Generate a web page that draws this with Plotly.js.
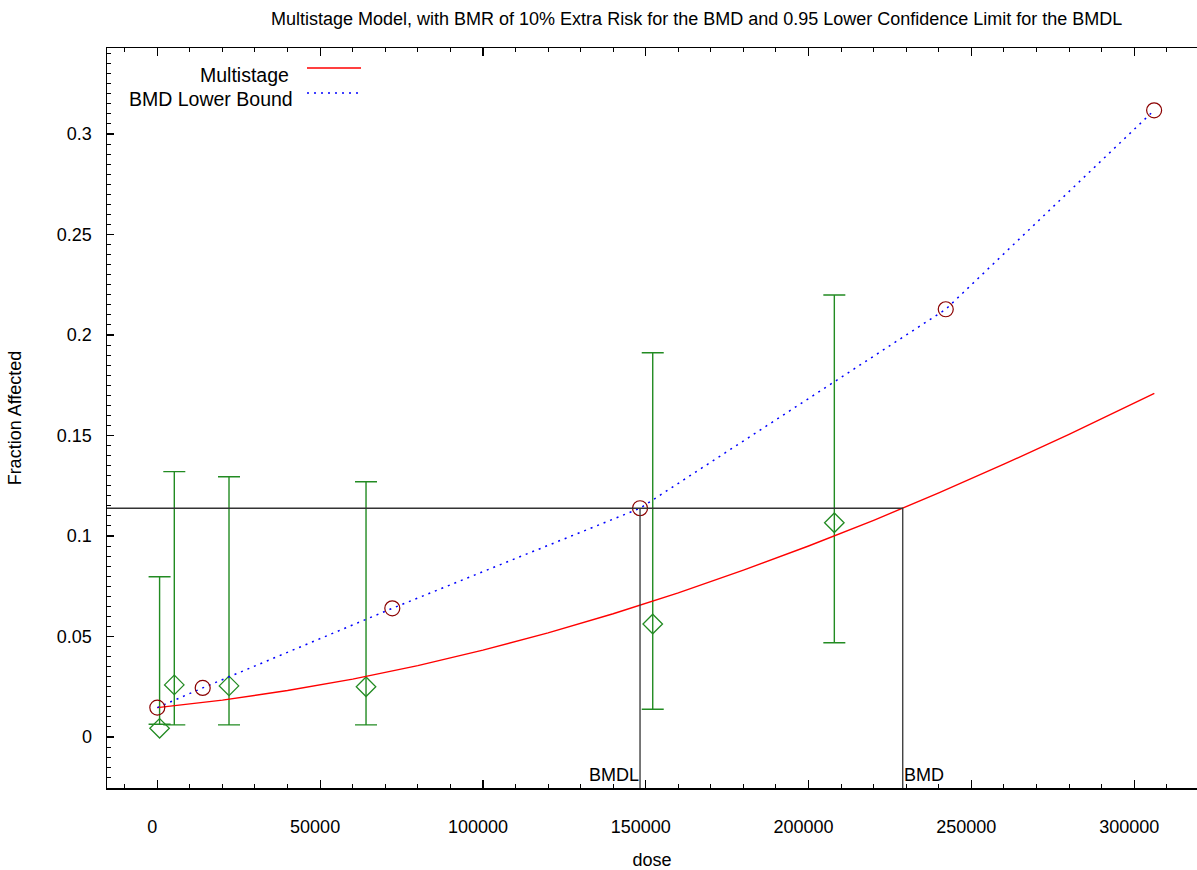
<!DOCTYPE html>
<html>
<head>
<meta charset="utf-8">
<script src="https://cdn.plot.ly/plotly-3.0.1.min.js"></script>
<style>html,body{margin:0;padding:0;background:#fff;}#chart{width:1197px;height:870px;}</style>
</head>
<body>
<div id="chart"></div>
<script>
// ---- data ----
const doseObs = [700, 5220, 22020, 64100, 152150, 207920];
const fracObs = [0.0043, 0.0259, 0.0254, 0.0250, 0.0562, 0.1066];
const ciUpper = [0.0797, 0.1320, 0.1295, 0.1270, 0.1912, 0.2199];
const ciLower = [0.0063, 0.0060, 0.0060, 0.0060, 0.0138, 0.0469];

const modelDose = [0, 20000, 40000, 60000, 80000, 100000, 120000, 140000, 160000, 180000, 200000, 220000, 240000, 260000, 280000, 300000, 306200];
const modelFrac = [0.0146, 0.0183, 0.0231, 0.0288, 0.0355, 0.0432, 0.0518, 0.0613, 0.0717, 0.0830, 0.0950, 0.1078, 0.1214, 0.1357, 0.1506, 0.1661, 0.1710];

const lowerDose = [0, 13940, 72170, 148250, 242140, 306130];
const lowerFrac = [0.0146, 0.0244, 0.0640, 0.1138, 0.2128, 0.3118];

const bmrLevel = 0.1138;
const bmdl = 148250;
const bmd = 228930;

const xRange = [-15450, 319300];
const yRange = [-0.0254, 0.3428];

const FONT = 'Liberation Sans, Arial, sans-serif';
const GREEN = 'rgb(34,139,34)';
const DARKRED = 'rgb(139,0,0)';

const traces = [
  {
    x: doseObs, y: fracObs, type: 'scatter', mode: 'markers', showlegend: false,
    marker: {symbol: 'diamond-open', size: 15, color: GREEN, line: {width: 1.3, color: GREEN}},
    error_y: {type: 'data', symmetric: false,
      array: ciUpper.map((u, i) => u - fracObs[i]),
      arrayminus: ciLower.map((l, i) => fracObs[i] - l),
      color: GREEN, thickness: 1.4, width: 11}
  },
  {
    x: modelDose, y: modelFrac, type: 'scatter', mode: 'lines', name: 'Multistage', showlegend: false,
    line: {color: 'red', width: 1.4}
  },
  {
    x: lowerDose, y: lowerFrac, type: 'scatter', mode: 'lines', name: 'BMD Lower Bound', showlegend: false,
    line: {color: 'blue', width: 1.5, dash: '2px,5px'}
  },
  {
    x: lowerDose, y: lowerFrac, type: 'scatter', mode: 'markers', showlegend: false,
    marker: {symbol: 'circle-open', size: 15, color: DARKRED, line: {width: 1.2, color: DARKRED}}
  },
  {
    x: [xRange[0], bmd, bmd], y: [bmrLevel, bmrLevel, yRange[0]], type: 'scatter', mode: 'lines', showlegend: false,
    line: {color: '#333', width: 1.3}
  },
  {
    x: [bmdl, bmdl], y: [bmrLevel, yRange[0]], type: 'scatter', mode: 'lines', showlegend: false,
    line: {color: '#333', width: 1.3}
  }
];

const px = p => (p - 107) / 1090;
const py = p => (788 - p) / 740;

const layout = {
  width: 1197, height: 870,
  margin: {l: 107, r: 0, t: 48, b: 82},
  paper_bgcolor: '#fff', plot_bgcolor: '#fff',
  font: {family: FONT, size: 18, color: '#000'},
  showlegend: false,
  title: {text: 'Multistage Model, with BMR of 10% Extra Risk for the BMD and 0.95 Lower Confidence Limit for the BMDL',
    font: {family: FONT, size: 18, color: '#000'}, x: 0.541, xref: 'paper', xanchor: 'center', y: 0.979, yref: 'container', yanchor: 'middle'},
  xaxis: {
    range: xRange, showgrid: false, zeroline: false, showline: true, linecolor: '#000', linewidth: 1.5,
    mirror: 'allticks', ticks: 'inside', ticklen: 8, tickwidth: 1.2, tickcolor: '#000',
    tick0: 0, dtick: 50000, tickformat: 'd', ticklabelstandoff: 22, ticklabelshift: -5,
    tickfont: {family: FONT, size: 18},
    minor: {dtick: 10000, ticks: 'inside', ticklen: 4, tickwidth: 1, tickcolor: '#000', showgrid: false},
    title: {text: 'dose', font: {family: FONT, size: 18}, standoff: 18}
  },
  yaxis: {
    range: yRange, showgrid: false, zeroline: false, showline: true, linecolor: '#000', linewidth: 1.5,
    mirror: false, ticks: 'inside', ticklen: 7, tickwidth: 1.2, tickcolor: '#000',
    tick0: 0, dtick: 0.05, ticklabelstandoff: 10,
    tickfont: {family: FONT, size: 18},
    minor: {dtick: 0.005, ticks: 'inside', ticklen: 4, tickwidth: 1, tickcolor: '#000', showgrid: false},
    title: {text: 'Fraction Affected', font: {family: FONT, size: 18}, standoff: 30}
  },
  annotations: [
    {x: bmdl, y: -0.0189, xref: 'x', yref: 'y', text: 'BMDL', showarrow: false, xanchor: 'right', yanchor: 'middle', xshift: 1, font: {family: FONT, size: 18}},
    {x: bmd, y: -0.0189, xref: 'x', yref: 'y', text: 'BMD', showarrow: false, xanchor: 'left', yanchor: 'middle', xshift: -1, font: {family: FONT, size: 18}},
    {x: px(291), y: py(75), xref: 'paper', yref: 'paper', text: 'Multistage', showarrow: false, xanchor: 'right', yanchor: 'middle', font: {family: FONT, size: 19.5}},
    {x: px(295), y: py(99), xref: 'paper', yref: 'paper', text: 'BMD Lower Bound', showarrow: false, xanchor: 'right', yanchor: 'middle', font: {family: FONT, size: 19.5}}
  ],
  shapes: [
    {type: 'line', xref: 'paper', yref: 'paper', x0: px(307), x1: px(361), y0: py(68), y1: py(68), line: {color: 'red', width: 1.4}},
    {type: 'line', xref: 'paper', yref: 'paper', x0: px(307), x1: px(361), y0: py(93), y1: py(93), line: {color: 'blue', width: 1.5, dash: '2px,5px'}}
  ]
};

Plotly.newPlot('chart', traces, layout, {displayModeBar: false, staticPlot: true});
</script>
</body>
</html>
